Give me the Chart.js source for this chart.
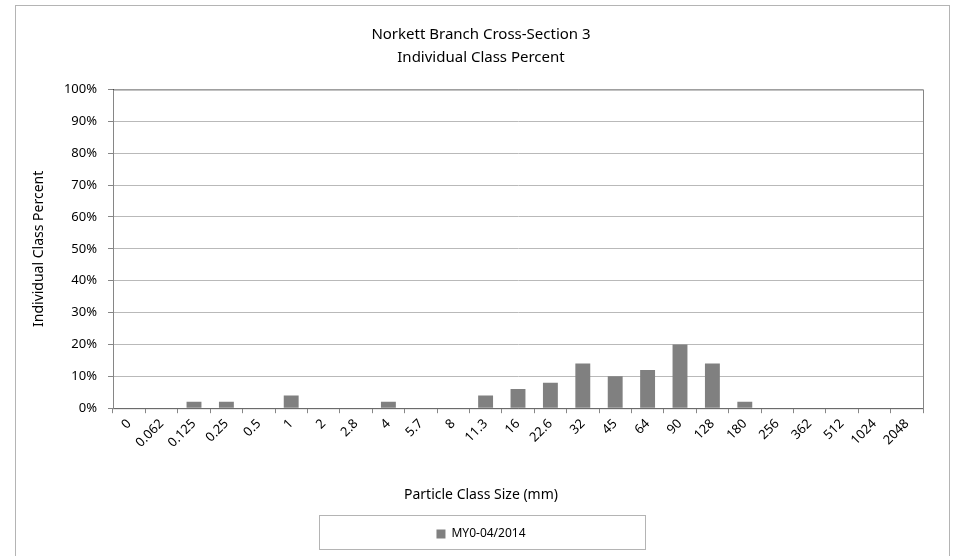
<!DOCTYPE html>
<html>
<head>
<meta charset="utf-8">
<script src="https://cdn.jsdelivr.net/npm/chart.js@4"></script>
<style>
  html, body { margin: 0; padding: 0; background: #fff; }
  #wrap { width: 954px; height: 556px; }
</style>
</head>
<body>
<div id="wrap"><canvas id="chart" width="954" height="556"></canvas></div>
<script>
const categories = ['0', '0.062', '0.125', '0.25', '0.5', '1', '2', '2.8', '4', '5.7', '8', '11.3', '16', '22.6', '32', '45', '64', '90', '128', '180', '256', '362', '512', '1024', '2048'];
const my0Values = [0, 0, 2, 2, 0, 4, 0, 0, 2, 0, 0, 4, 6, 8, 14, 10, 12, 20, 14, 2, 0, 0, 0, 0, 0];
const seriesLabel = 'MY0-04/2014';
const titleLines = ['Norkett Branch Cross-Section 3', 'Individual Class Percent'];
const xTitle = 'Particle Class Size (mm)';
const yTitle = 'Individual Class Percent';

const FONT = "'Noto Sans', 'Open Sans', sans-serif";

// outer frame + plot-area border + legend frame
const frames = {
  id: 'frames',
  beforeDraw(chart) {
    const ctx = chart.ctx;
    ctx.save();
    ctx.strokeStyle = '#b4b4b4';
    ctx.lineWidth = 1;
    ctx.strokeRect(15.5, 5.5, 934, 600);
    ctx.restore();
  },
  beforeDatasetsDraw(chart) {
    const { ctx, chartArea: a } = chart;
    ctx.save();
    ctx.strokeStyle = '#868686';
    ctx.lineWidth = 1;
    ctx.strokeRect(a.left + 0.5, a.top + 0.5, a.right - a.left, a.bottom - a.top);
    ctx.restore();
  },
  afterDraw(chart) {
    const lg = chart.legend;
    const ctx = chart.ctx;
    const cx = 482, w = 326;
    ctx.save();
    ctx.strokeStyle = '#b4b4b4';
    ctx.lineWidth = 1;
    ctx.strokeRect(Math.round(cx - w / 2) + 0.5, Math.round(lg.top) + 0.5, w, Math.round(lg.bottom - lg.top) - 1);
    ctx.restore();
  }
};

new Chart(document.getElementById('chart'), {
  type: 'bar',
  data: {
    labels: categories,
    datasets: [{
      label: seriesLabel,
      data: my0Values,
      backgroundColor: '#808080',
      borderWidth: 0,
      barPercentage: 0.46,
      categoryPercentage: 1.0
    }]
  },
  options: {
    responsive: false,
    animation: false,
    layout: { padding: { left: 8, right: 0, top: 0, bottom: 6 } },
    plugins: {
      title: {
        display: true,
        text: titleLines,
        color: '#000',
        font: { family: FONT, size: 15, weight: 'normal', lineHeight: 1.55 },
        padding: { top: 23, bottom: 20 }
      },
      // x axis title sits centred on the whole chart like in Excel
      subtitle: {
        display: true,
        position: 'bottom',
        weight: 500,
        text: xTitle,
        color: '#000',
        font: { family: FONT, size: 14, weight: 'normal', lineHeight: 1.2 },
        padding: { top: 7, bottom: 12 }
      },
      legend: {
        display: true,
        position: 'bottom',
        labels: {
          color: '#000',
          font: { family: FONT, size: 12 },
          boxWidth: 9,
          boxHeight: 9,
          padding: 13
        }
      },
      tooltip: { enabled: false }
    },
    scales: {
      x: {
        afterFit(scale) { scale.height = 71; },
        grid: {
          display: true,
          drawOnChartArea: false,
          drawTicks: true,
          tickLength: 5,
          color: '#868686',
          offset: true
        },
        border: { display: true, color: '#000', width: 1 },
        ticks: {
          color: '#000',
          font: { family: FONT, size: 13 },
          minRotation: 45,
          maxRotation: 45,
          autoSkip: false,
          padding: 3
        }
      },
      y: {
        min: 0,
        max: 100,
        afterFit(scale) { scale.width = 105; },
        grid: {
          color: '#b9b9b9',
          drawTicks: true,
          tickLength: 5,
          tickColor: '#868686'
        },
        border: { display: true, color: '#000', width: 1 },
        ticks: {
          stepSize: 10,
          color: '#000',
          font: { family: FONT, size: 13 },
          padding: 11,
          callback: v => v + '%'
        },
        title: {
          display: true,
          text: yTitle,
          color: '#000',
          font: { family: FONT, size: 14 },
          padding: { top: 23, bottom: 0 }
        }
      },
      // empty right-hand spacer so the plot stops short of the frame
      spacer: {
        type: 'linear',
        position: 'right',
        afterFit(scale) { scale.width = 31; },
        grid: { display: false },
        border: { display: false },
        ticks: { display: false }
      }
    }
  },
  plugins: [frames]
});
</script>
</body>
</html>
